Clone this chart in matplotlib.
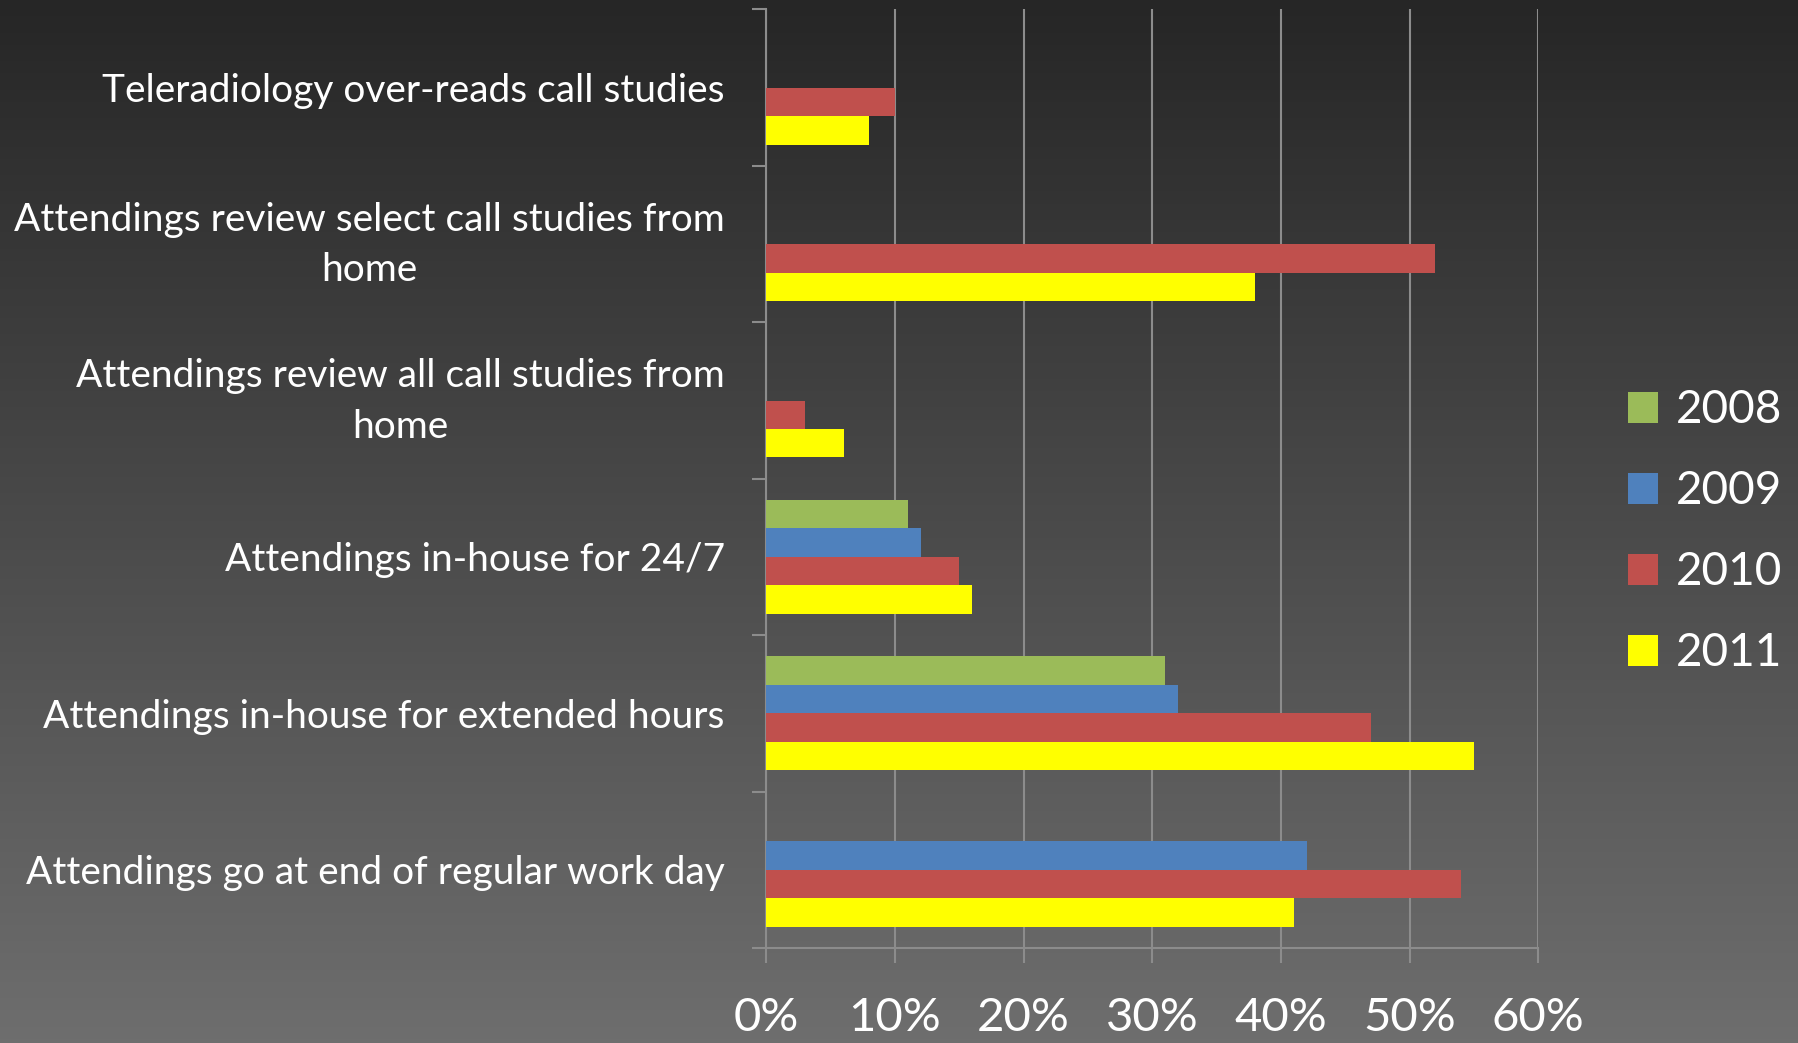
import numpy as np
import matplotlib
matplotlib.use('Agg')
import matplotlib.pyplot as plt
import matplotlib.transforms as mtransforms
from matplotlib.patches import Patch

# datos (porcentaje)
categorias = [
    'Teleradiology over-reads call studies',
    'Attendings review select call studies from\nhome',
    'Attendings review all call studies from\nhome',
    'Attendings in-house for 24/7',
    'Attendings in-house for extended hours',
    'Attendings go at end of regular work day',
]
anios = ['2008', '2009', '2010', '2011']
v2008 = [0, 0, 0, 11, 31, 0]
v2009 = [0, 0, 0, 12, 32, 42]
v2010 = [10, 52, 3, 15, 47, 54]
v2011 = [8, 38, 6, 16, 55, 41]
colores = ['#9BBB59', '#4F81BD', '#C0504D', '#FFFF00']
xticks = [0, 10, 20, 30, 40, 50, 60]

plt.rcParams['font.family'] = ['Lato', 'DejaVu Sans']

fig = plt.figure(figsize=(17.99, 10.43), dpi=100)

# fondo con degradado vertical
bg = fig.add_axes([0, 0, 1, 1], zorder=-1)
grad = np.linspace(0, 1, 256).reshape(-1, 1)
bg.imshow(grad, aspect='auto', cmap=matplotlib.colors.LinearSegmentedColormap.from_list(
    'fondo', ['#262626', '#6e6e6e']), extent=[0, 1, 0, 1], origin='upper')
bg.axis('off')

ax = fig.add_axes([0.426, 0.091, 0.429, 0.9])
ax.set_facecolor('none')

y = np.arange(len(categorias))
h = 0.182
series = [v2008, v2009, v2010, v2011]
for i, (vals, col, lab) in enumerate(zip(series, colores, anios)):
    ax.barh(y + (i - 1.5) * h, vals, height=h, color=col, label=lab, zorder=3)

ax.set_ylim(len(categorias) - 0.5, -0.5)
ax.set_xlim(0, 60)

ax.set_xticks(xticks)
ax.set_xticklabels([f'{t}%' for t in xticks], color='white', fontsize=34)
ax.tick_params(axis='x', length=11, width=1.5, color='#8c8c8c', pad=24)

ax.set_yticks(y)
ax.set_yticklabels(categorias, color='white', fontsize=28, multialignment='center',
                   linespacing=1.5)
ax.tick_params(axis='y', which='major', length=0, pad=30)
ax.set_yticks(np.arange(-0.5, len(categorias)), minor=True)
ax.tick_params(axis='y', which='minor', length=10, width=1.5, color='#8c8c8c')

# subir un poco las etiquetas de dos lineas
subir = mtransforms.ScaledTranslation(0, 7 / 72, fig.dpi_scale_trans)
for t in ax.get_yticklabels():
    if '\n' in t.get_text():
        t.set_transform(t.get_transform() + subir)

ax.grid(axis='x', color='#8c8c8c', linewidth=1.5, zorder=0)
for s in ['top', 'right']:
    ax.spines[s].set_visible(False)
for s in ['left', 'bottom']:
    ax.spines[s].set_color('#8c8c8c')
    ax.spines[s].set_linewidth(1.5)

handles = [Patch(facecolor=c, label=l) for c, l in zip(colores, anios)]
fig.legend(handles=handles, loc='center left', bbox_to_anchor=(0.882, 0.49),
           frameon=False, fontsize=33, labelcolor='white', handlelength=0.65,
           handleheight=0.65, handletextpad=0.4, labelspacing=0.85)

plt.savefig('out.png', dpi=100)
